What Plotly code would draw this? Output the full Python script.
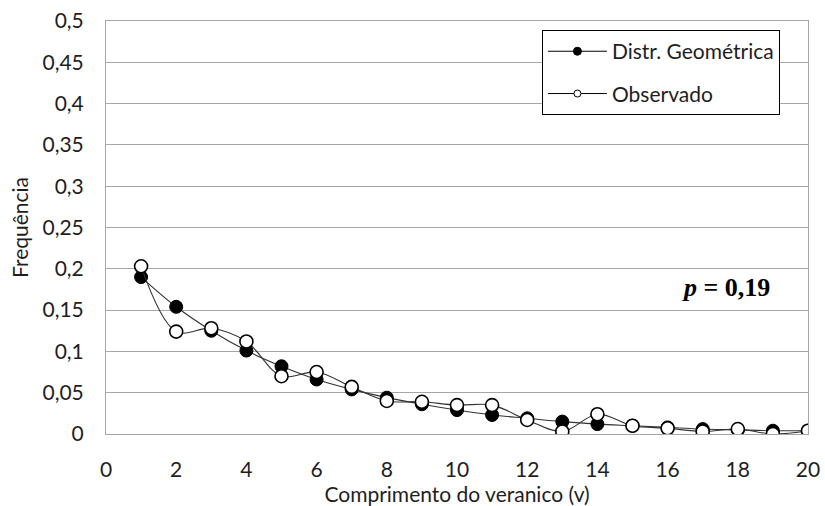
import plotly.graph_objects as go

# Comprimento do veranico (dias)
comprimento = list(range(1, 21))

# Frequência ajustada pela distribuição geométrica (p = 0,19)
freq_geometrica = [0.190, 0.154, 0.125, 0.101, 0.082, 0.066, 0.054, 0.044, 0.036, 0.029,
                   0.023, 0.019, 0.015, 0.012, 0.010, 0.008, 0.006, 0.005, 0.004, 0.004]

# Frequência observada
freq_observada = [0.203, 0.124, 0.128, 0.112, 0.070, 0.075, 0.057, 0.040, 0.039, 0.035,
                  0.035, 0.017, 0.003, 0.024, 0.010, 0.007, 0.003, 0.006, 0.000, 0.004]

y_ticks = [0, 0.05, 0.1, 0.15, 0.2, 0.25, 0.3, 0.35, 0.4, 0.45, 0.5]
y_tick_labels = ["0", "0,05", "0,1", "0,15", "0,2", "0,25", "0,3", "0,35", "0,4", "0,45", "0,5"]
x_ticks = list(range(0, 21, 2))
x_tick_labels = [str(v) for v in x_ticks]

FONT = "Lato"
TEXT_COLOR = "#1e1e1e"
GRID = "#a6a6a6"
LINE = dict(color="#333333", width=1.1, shape="spline", smoothing=1)

series = [
    ("Distr. Geométrica", freq_geometrica, "black", 1.0),
    ("Observado", freq_observada, "white", 1.6),
]

fig = go.Figure()
for name, values, fill, edge in series:
    # plotted series (legend entries are drawn by the smaller-marker twins below)
    fig.add_trace(go.Scatter(
        x=comprimento, y=values, mode="lines+markers",
        name=name, showlegend=False,
        line=LINE,
        marker=dict(symbol="circle", size=13, color=fill,
                    line=dict(color="black", width=edge)),
    ))
for name, values, fill, edge in series:
    # legend keys: thin line with a small marker
    fig.add_trace(go.Scatter(
        x=[None], y=[None], mode="lines+markers",
        name=name, legendgroup=name,
        line=dict(color="black", width=1),
        marker=dict(symbol="circle", size=8 if fill == "black" else 7, color=fill,
                    line=dict(color="black", width=1)),
    ))

fig.add_annotation(
    x=0.883, y=0.355, xref="paper", yref="paper",
    xanchor="center", yanchor="middle",
    text="<i>p</i> = 0,19", showarrow=False,
    font=dict(family="Liberation Serif", size=26, color="black", weight="bold"),
)

fig.update_layout(
    width=825, height=506,
    margin=dict(l=106, r=17, t=21, b=72),
    paper_bgcolor="white", plot_bgcolor="white",
    font=dict(family=FONT, size=21, color=TEXT_COLOR),
    showlegend=True,
    legend=dict(
        x=0.621, y=0.978, xanchor="left", yanchor="top",
        bgcolor="white", bordercolor="black", borderwidth=1,
        font=dict(family=FONT, size=21, color=TEXT_COLOR),
        tracegroupgap=12, itemwidth=59,
    ),
    xaxis=dict(
        range=[0, 20], tickvals=x_ticks, ticktext=x_tick_labels,
        showgrid=False, zeroline=False, automargin=False,
        showline=True, linecolor=GRID, linewidth=1, mirror=True,
        ticks="", ticklabelstandoff=17,
        title=dict(text="Comprimento do veranico (v)", standoff=0,
                   font=dict(family=FONT, size=21, color=TEXT_COLOR)),
    ),
    yaxis=dict(
        range=[0, 0.5], tickvals=y_ticks, ticktext=y_tick_labels,
        showgrid=True, gridcolor=GRID, gridwidth=1, zeroline=False, automargin=False,
        showline=True, linecolor=GRID, linewidth=1, mirror=True,
        ticks="", ticklabelstandoff=17,
        title=dict(text="Frequência", standoff=8,
                   font=dict(family=FONT, size=21, color=TEXT_COLOR)),
    ),
)

fig.write_html("out.html")
